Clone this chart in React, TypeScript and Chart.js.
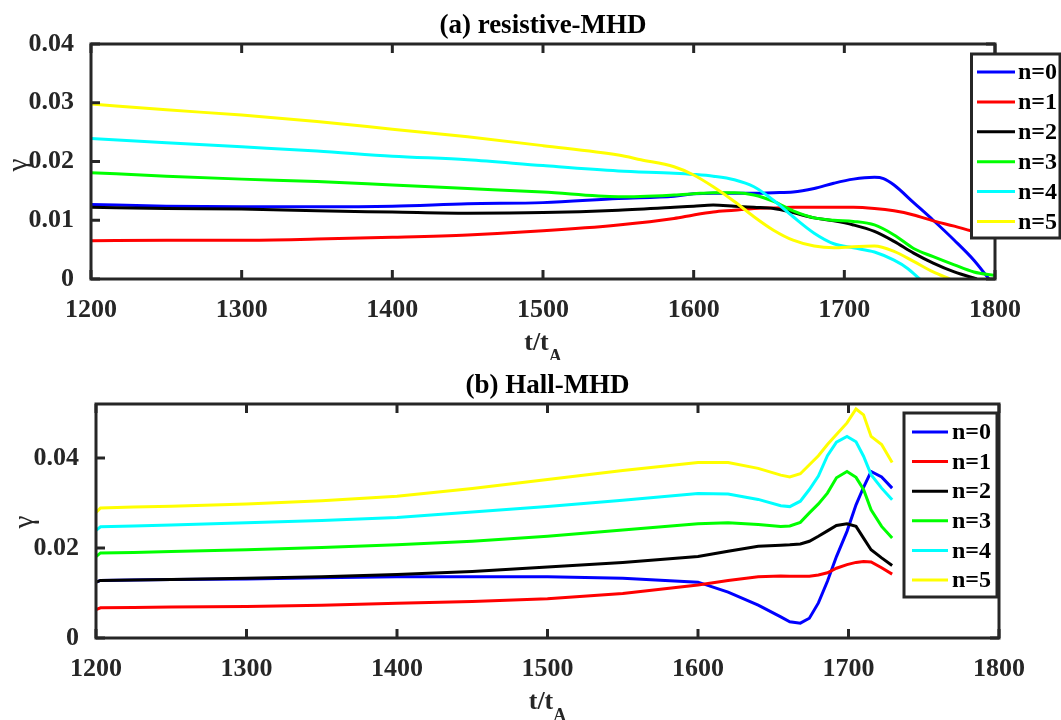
import React, { useEffect, useRef } from 'react';
import { Chart, registerables } from 'chart.js';

Chart.register(...registerables);

// ---------- shared ----------
const seriesNames = ['n=0', 'n=1', 'n=2', 'n=3', 'n=4', 'n=5'];
const seriesColors = ['#0000FF', '#FF0000', '#000000', '#00FF00', '#00FFFF', '#FFFF00'];
const xTicks = [1200, 1300, 1400, 1500, 1600, 1700, 1800];
const titleTop = '(a) resistive-MHD';
const titleBot = '(b) Hall-MHD';
const yTicksTop = [0, 0.01, 0.02, 0.03, 0.04];
const yTickLabelsTop = ['0', '0.01', '0.02', '0.03', '0.04'];
const yTicksBot = [0, 0.02, 0.04];
const yTickLabelsBot = ['0', '0.02', '0.04'];
const yMaxTop = 0.04;
const yMaxBot = 0.052;

// ---------- (a) resistive-MHD ----------
const tTopN0 = [1200, 1250, 1300, 1350, 1400, 1450, 1500, 1550, 1587, 1600, 1613, 1627, 1640, 1653, 1666, 1680, 1693, 1706, 1720, 1726, 1733, 1746, 1759, 1773, 1786, 1796];
const gTopN0 = [0.0127, 0.0124, 0.0123, 0.0123, 0.0124, 0.0128, 0.013, 0.0137, 0.0141, 0.0145, 0.0146, 0.0146, 0.0146, 0.0147, 0.0148, 0.0154, 0.0163, 0.017, 0.0173, 0.0171, 0.016, 0.013, 0.01, 0.0066, 0.0032, 0];

const tTopN1 = [1200, 1250, 1300, 1350, 1400, 1450, 1500, 1550, 1587, 1600, 1613, 1627, 1640, 1653, 1666, 1680, 1693, 1706, 1720, 1733, 1746, 1759, 1773, 1784, 1800];
const gTopN1 = [0.0065, 0.0066, 0.0066, 0.0068, 0.0071, 0.0075, 0.0082, 0.0092, 0.0103, 0.0109, 0.0114, 0.0117, 0.012, 0.0121, 0.0122, 0.0122, 0.0122, 0.0122, 0.012, 0.0116, 0.0109, 0.0099, 0.009, 0.0082, 0.0072];

const tTopN2 = [1200, 1250, 1300, 1350, 1400, 1450, 1500, 1550, 1587, 1600, 1613, 1627, 1640, 1653, 1666, 1680, 1693, 1706, 1720, 1733, 1746, 1759, 1773, 1788];
const gTopN2 = [0.0122, 0.012, 0.0119, 0.0116, 0.0114, 0.0112, 0.0113, 0.0117, 0.0122, 0.0124, 0.0126, 0.0124, 0.0122, 0.012, 0.0113, 0.0104, 0.0099, 0.0092, 0.0081, 0.0064, 0.0044, 0.0027, 0.0012, 0];

const tTopN3 = [1200, 1250, 1300, 1350, 1400, 1450, 1500, 1550, 1587, 1600, 1613, 1627, 1640, 1653, 1666, 1680, 1693, 1706, 1720, 1733, 1746, 1759, 1773, 1786, 1800];
const gTopN3 = [0.0181, 0.0175, 0.017, 0.0166, 0.016, 0.0154, 0.0148, 0.014, 0.0143, 0.0145, 0.0147, 0.0147, 0.0143, 0.0132, 0.0116, 0.0104, 0.01, 0.0098, 0.0092, 0.0075, 0.0052, 0.0038, 0.0024, 0.0012, 0.0006];

const tTopN4 = [1200, 1250, 1300, 1350, 1400, 1450, 1500, 1550, 1587, 1600, 1613, 1627, 1640, 1653, 1666, 1680, 1693, 1706, 1720, 1733, 1742, 1750];
const gTopN4 = [0.0239, 0.0232, 0.0225, 0.0218, 0.0209, 0.0203, 0.0193, 0.0184, 0.018, 0.0178, 0.0175, 0.0169, 0.0157, 0.0134, 0.0106, 0.0078, 0.006, 0.0053, 0.0046, 0.0032, 0.0018, 0];

const tTopN5 = [1200, 1250, 1300, 1350, 1400, 1450, 1500, 1550, 1565, 1587, 1600, 1613, 1627, 1640, 1653, 1666, 1680, 1693, 1706, 1720, 1733, 1746, 1759, 1770];
const gTopN5 = [0.0298, 0.0288, 0.0279, 0.0268, 0.0255, 0.0242, 0.0227, 0.0211, 0.0203, 0.0191, 0.0177, 0.0157, 0.0132, 0.0106, 0.0083, 0.0066, 0.0056, 0.0053, 0.0055, 0.0056, 0.0047, 0.003, 0.0012, 0];

// ---------- (b) Hall-MHD ----------
const tBot = [1200, 1203, 1225, 1250, 1300, 1350, 1400, 1450, 1500, 1550, 1600, 1620, 1640, 1655, 1661, 1668, 1674, 1680, 1686, 1692, 1699, 1705, 1710, 1715, 1722, 1729];
const gBotN0 = [0.0124, 0.0128, 0.0129, 0.013, 0.0131, 0.0134, 0.0136, 0.0136, 0.0136, 0.0133, 0.0124, 0.0102, 0.0073, 0.0047, 0.0036, 0.0033, 0.0044, 0.0078, 0.0126, 0.0181, 0.0237, 0.0296, 0.0335, 0.037, 0.0358, 0.0333];
const gBotN1 = [0.0063, 0.0067, 0.0068, 0.0069, 0.007, 0.0073, 0.0077, 0.0081, 0.0087, 0.0099, 0.0118, 0.0128, 0.0136, 0.0138, 0.0137, 0.0137, 0.0137, 0.014, 0.0145, 0.0155, 0.0163, 0.0168, 0.017, 0.0169, 0.0156, 0.0142];
const gBotN2 = [0.0124, 0.0128, 0.0129, 0.013, 0.0133, 0.0136, 0.0141, 0.0148, 0.0158, 0.0168, 0.0181, 0.0193, 0.0204, 0.0206, 0.0207, 0.0209, 0.0215, 0.0226, 0.0238, 0.025, 0.0254, 0.0248, 0.0222, 0.0196, 0.0178, 0.0161];
const gBotN3 = [0.0181, 0.0189, 0.019, 0.0192, 0.0196, 0.0201, 0.0207, 0.0215, 0.0226, 0.024, 0.0254, 0.0256, 0.0252, 0.0248, 0.0249, 0.0257, 0.0278, 0.0298, 0.0322, 0.0356, 0.037, 0.0357, 0.033, 0.0285, 0.0248, 0.0222];
const gBotN4 = [0.0239, 0.0247, 0.0249, 0.0251, 0.0256, 0.0261, 0.0268, 0.028, 0.0292, 0.0306, 0.0321, 0.032, 0.0308, 0.0294, 0.0292, 0.0304, 0.033, 0.036, 0.0405, 0.0435, 0.0448, 0.0436, 0.0404, 0.0363, 0.0333, 0.0307];
const gBotN5 = [0.0279, 0.0289, 0.0291, 0.0293, 0.0298, 0.0305, 0.0315, 0.0332, 0.0352, 0.0372, 0.039, 0.039, 0.0377, 0.0362, 0.0358, 0.0365, 0.0385, 0.0405, 0.043, 0.0452, 0.0478, 0.0509, 0.0496, 0.0448, 0.043, 0.039];

const topT = [tTopN0, tTopN1, tTopN2, tTopN3, tTopN4, tTopN5];
const topG = [gTopN0, gTopN1, gTopN2, gTopN3, gTopN4, gTopN5];
const botG = [gBotN0, gBotN1, gBotN2, gBotN3, gBotN4, gBotN5];

const FONT = '"Liberation Serif", "Times New Roman", serif';
const AX = '#262626';

const framePlugin = {
  id: 'frame',
  afterDatasetsDraw(chart: any, _args: any, _opts: any) {
    const { ctx, chartArea: a, scales } = chart;
    ctx.save();
    ctx.strokeStyle = AX;
    ctx.lineWidth = 3;
    const L = 9;
    const seg = (x1: number, y1: number, x2: number, y2: number) => {
      ctx.beginPath();
      ctx.moveTo(x1, y1);
      ctx.lineTo(x2, y2);
      ctx.stroke();
    };
    scales.x.ticks.forEach((t: any) => {
      const p = scales.x.getPixelForValue(t.value);
      seg(p, a.bottom, p, a.bottom - L);
      seg(p, a.top, p, a.top + L);
    });
    scales.y.ticks.forEach((t: any) => {
      const p = scales.y.getPixelForValue(t.value);
      seg(a.left, p, a.left + L, p);
      seg(a.right, p, a.right - L, p);
    });
    ctx.strokeRect(a.left, a.top, a.right - a.left, a.bottom - a.top);
    ctx.restore();
  },
  afterDraw(chart: any, _args: any, opts: any) {
    const { ctx, chartArea: a } = chart;
    const cx = (a.left + a.right) / 2;
    ctx.save();
    // title
    ctx.fillStyle = '#000';
    ctx.font = `bold 27px ${FONT}`;
    ctx.textAlign = 'center';
    ctx.textBaseline = 'alphabetic';
    ctx.fillText(opts.title, cx, a.top - 11);
    // x title with subscript
    ctx.font = `bold 26px ${FONT}`;
    const w1 = ctx.measureText('t/t').width;
    ctx.font = `bold 18px ${FONT}`;
    const w2 = ctx.measureText('A').width;
    const x0 = cx - (w1 + w2) / 2;
    ctx.textAlign = 'left';
    ctx.fillStyle = AX;
    ctx.font = `bold 26px ${FONT}`;
    ctx.fillText('t/t', x0, a.bottom + 71);
    ctx.font = `bold 18px ${FONT}`;
    ctx.fillText('A', x0 + w1, a.bottom + 83);
    // y title
    ctx.save();
    ctx.translate(opts.yTitleX, opts.yTitleY);
    ctx.rotate(-Math.PI / 2);
    ctx.textAlign = 'center';
    ctx.textBaseline = 'middle';
    ctx.font = `29px ${FONT}`;
    ctx.fillText('γ', 0, 0);
    ctx.restore();
    // legend
    const lg = opts.legend;
    ctx.fillStyle = '#fff';
    ctx.fillRect(lg.x, lg.y, lg.w, lg.h);
    ctx.strokeStyle = AX;
    ctx.lineWidth = 3;
    ctx.strokeRect(lg.x, lg.y, lg.w, lg.h);
    ctx.font = `bold 24px ${FONT}`;
    ctx.textAlign = 'left';
    ctx.textBaseline = 'middle';
    chart.data.datasets.forEach((ds: any, i: number) => {
      const yy = lg.row0 + i * lg.step;
      ctx.strokeStyle = ds.borderColor;
      ctx.lineWidth = 3;
      ctx.beginPath();
      ctx.moveTo(lg.l0, yy);
      ctx.lineTo(lg.l1, yy);
      ctx.stroke();
      ctx.fillStyle = '#000';
      ctx.fillText(ds.label, lg.tx, yy + 1);
    });
    ctx.restore();
  },
};

function makeConfig(kind: 'top' | 'bot') {
  const isTop = kind === 'top';
  const datasets = seriesNames.map((name, i) => {
    const t = isTop ? topT[i] : tBot;
    const g = isTop ? topG[i] : botG[i];
    return {
      label: name,
      data: t.map((x, j) => ({ x, y: g[j] })),
      borderColor: seriesColors[i],
      backgroundColor: seriesColors[i],
      borderWidth: 3,
      pointRadius: 0,
      fill: false,
      order: 5 - i,
      tension: 0,
      cubicInterpolationMode: isTop ? 'monotone' : 'default',
    };
  });
  const yTicks = isTop ? yTicksTop : yTicksBot;
  const yLabels = isTop ? yTickLabelsTop : yTickLabelsBot;
  const leftW = isTop ? 91 : 96;
  const rightPad = isTop ? 66 : 62;
  const xH = isTop ? 81 : 82;
  return {
    type: 'line',
    data: { datasets },
    plugins: [framePlugin],
    options: {
      responsive: false,
      animation: false,
      devicePixelRatio: 1,
      layout: { padding: { left: 0, right: rightPad, top: 44, bottom: 0 } },
      plugins: {
        legend: { display: false },
        title: { display: false },
        tooltip: { enabled: false },
        frame: {
          title: isTop ? titleTop : titleBot,
          yTitleX: isTop ? 19 : 25,
          yTitleY: isTop ? 165 : 162,
          legend: isTop
            ? { x: 971.5, y: 54, w: 88.5, h: 184, l0: 977, l1: 1015, tx: 1018, row0: 72, step: 29.9 }
            : { x: 904, y: 53, w: 93, h: 184, l0: 912, l1: 948, tx: 952, row0: 72, step: 29.6 },
        },
      },
      scales: {
        x: {
          type: 'linear',
          min: 1200,
          max: 1800,
          grid: { display: false },
          border: { display: false },
          afterBuildTicks: (s: any) => {
            s.ticks = xTicks.map((v) => ({ value: v }));
          },
          afterFit: (s: any) => {
            s.height = xH;
          },
          ticks: {
            padding: 8,
            maxRotation: 0,
            autoSkip: false,
            color: AX,
            font: { family: FONT, size: 26, weight: 'bold' },
            callback: (v: any) => String(v),
          },
        },
        y: {
          type: 'linear',
          min: 0,
          max: isTop ? yMaxTop : yMaxBot,
          grid: { display: false },
          border: { display: false },
          afterBuildTicks: (s: any) => {
            s.ticks = yTicks.map((v) => ({ value: v }));
          },
          afterFit: (s: any) => {
            s.width = leftW;
          },
          ticks: {
            padding: 9,
            color: AX,
            font: { family: FONT, size: 26, weight: 'bold' },
            callback: (v: any) => {
              const k = yTicks.findIndex((t) => Math.abs(t - v) < 1e-9);
              return k >= 0 ? yLabels[k] : '';
            },
          },
        },
      },
    },
  };
}

function Panel({ kind, top }: { kind: 'top' | 'bot'; top: number }) {
  const ref = useRef<HTMLCanvasElement | null>(null);
  useEffect(() => {
    if (!ref.current) return;
    const chart = new Chart(ref.current, makeConfig(kind) as any);
    return () => chart.destroy();
  }, [kind]);
  return (
    <canvas
      ref={ref}
      width={1061}
      height={360}
      style={{ position: 'absolute', left: 0, top, width: 1061, height: 360, display: 'block' }}
    />
  );
}

export default function App() {
  return (
    <div style={{ position: 'absolute', left: 0, top: 0, width: 1061, height: 720, background: '#fff', overflow: 'hidden' }}>
      <Panel kind="top" top={0} />
      <Panel kind="bot" top={360} />
    </div>
  );
}
